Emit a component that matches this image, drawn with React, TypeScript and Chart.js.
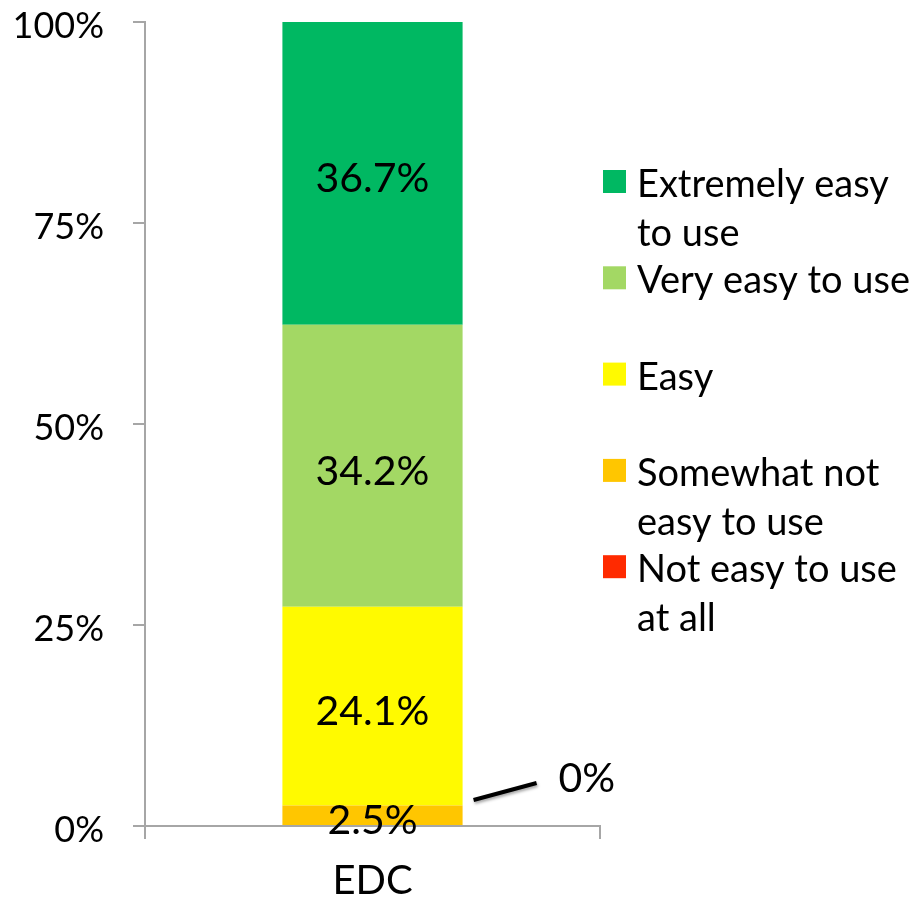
import React, { useEffect, useRef } from 'react';
import { Chart, registerables } from 'chart.js';

Chart.register(...registerables);

// ---- data ----
const categories = ['EDC'];
const seriesNames = [
  'Not easy to use at all',
  'Somewhat not easy to use',
  'Easy',
  'Very easy to use',
  'Extremely easy to use',
];
const legendLines = [
  ['Not easy to use', 'at all'],
  ['Somewhat not', 'easy to use'],
  ['Easy'],
  ['Very easy to use'],
  ['Extremely easy', 'to use'],
];
const notEasyAtAll = [0];
const somewhatNotEasy = [2.5];
const easy = [24.1];
const veryEasy = [34.2];
const extremelyEasy = [36.7];
const seriesValues = [notEasyAtAll, somewhatNotEasy, easy, veryEasy, extremelyEasy];
const seriesColors = ['#FF2A00', '#FFC600', '#FFFA00', '#A3D864', '#00B862'];
const yTickLabels = ['0%', '25%', '50%', '75%', '100%'];

const FONT = 'Lato, "DejaVu Sans", sans-serif';
const AXIS_GRAY = '#A6A6A6';

const fmt = (v: number) => `${v}%`;

const dataLabelPlugin = {
  id: 'dataLabels',
  afterDatasetsDraw(chart: any) {
    const ctx = chart.ctx;
    ctx.save();
    ctx.fillStyle = '#000';
    ctx.font = `41px ${FONT}`;
    ctx.textAlign = 'center';
    ctx.textBaseline = 'alphabetic';
    chart.data.datasets.forEach((_ds: any, di: number) => {
      const meta = chart.getDatasetMeta(di);
      meta.data.forEach((bar: any, ci: number) => {
        const raw = seriesValues[di][ci];
        const { x, y, base, width } = bar.getProps(['x', 'y', 'base', 'width'], true);
        if (raw === 0) {
          const x0 = x + width / 2 + 11;
          const y0 = base - 26;
          ctx.save();
          ctx.strokeStyle = '#000';
          ctx.lineWidth = 4;
          ctx.shadowColor = 'rgba(0,0,0,0.35)';
          ctx.shadowBlur = 3;
          ctx.shadowOffsetX = 1;
          ctx.shadowOffsetY = 2;
          ctx.beginPath();
          ctx.moveTo(x0, y0);
          ctx.lineTo(x0 + 63, y0 - 17);
          ctx.stroke();
          ctx.restore();
          ctx.textAlign = 'left';
          ctx.fillText(fmt(raw), x0 + 85, y0 - 8);
          ctx.textAlign = 'center';
        } else {
          const mid = (y + base) / 2;
          ctx.fillText(fmt(raw), x, mid + 19);
        }
      });
    });
    ctx.restore();
  },
};

const legendPlugin = {
  id: 'customLegend',
  afterDraw(chart: any) {
    const ctx = chart.ctx;
    const area = chart.chartArea;
    const boxX = area.right + 3;
    const box = 23;
    const textX = area.right + 37;
    const firstTop = 170;
    const step = 96.3;
    const lineGap = 49;
    ctx.save();
    ctx.font = `38px ${FONT}`;
    ctx.textAlign = 'left';
    ctx.textBaseline = 'alphabetic';
    const n = seriesNames.length;
    for (let k = 0; k < n; k++) {
      const si = n - 1 - k;
      const top = firstTop + k * step;
      ctx.fillStyle = seriesColors[si];
      ctx.fillRect(boxX, top, box, box);
      ctx.fillStyle = '#000';
      legendLines[si].forEach((line, li) => {
        ctx.fillText(line, textX, top + 27 + li * lineGap);
      });
    }
    ctx.restore();
  },
};

export default function App() {
  const ref = useRef<HTMLCanvasElement | null>(null);

  useEffect(() => {
    if (!ref.current) return;
    const totals = categories.map((_c, ci) =>
      seriesValues.reduce((s, arr) => s + arr[ci], 0)
    );
    const chart = new Chart(ref.current, {
      type: 'bar',
      data: {
        labels: categories,
        datasets: seriesNames.map((name, si) => ({
          label: name,
          data: seriesValues[si].map((v, ci) => (v / totals[ci]) * 100),
          backgroundColor: seriesColors[si],
          borderWidth: 0,
          categoryPercentage: 1,
          barPercentage: 0.396,
        })),
      },
      options: {
        animation: false,
        responsive: false,
        maintainAspectRatio: false,
        layout: { padding: { top: 22, right: 322, left: 0, bottom: 0 } },
        plugins: {
          legend: { display: false },
          tooltip: { enabled: false },
        },
        scales: {
          x: {
            stacked: true,
            offset: true,
            grid: {
              drawOnChartArea: false,
              offset: true,
              tickLength: 13,
              color: AXIS_GRAY,
              lineWidth: 2,
            },
            border: { color: AXIS_GRAY, width: 2 },
            ticks: {
              font: { family: FONT, size: 40 },
              color: '#000',
              padding: 18,
            },
            afterFit: (s: any) => {
              s.height = 82;
              s.paddingLeft = 0;
              s.paddingRight = 0;
            },
          },
          y: {
            stacked: true,
            min: 0,
            max: 100,
            grid: {
              drawOnChartArea: false,
              tickLength: 12,
              color: AXIS_GRAY,
              lineWidth: 2,
            },
            border: { color: AXIS_GRAY, width: 2 },
            ticks: {
              stepSize: 25,
              font: { family: FONT, size: 36 },
              color: '#000',
              padding: 29,
              labelOffset: 4,
              callback: (_v: any, i: number) => yTickLabels[i],
            },
            afterFit: (s: any) => {
              s.width = 145;
              s.paddingTop = 0;
              s.paddingBottom = 0;
            },
          },
        },
      },
      plugins: [dataLabelPlugin, legendPlugin],
    });
    return () => chart.destroy();
  }, []);

  return (
    <div style={{ position: 'absolute', left: 0, top: 0, width: 922, height: 908, background: '#fff' }}>
      <canvas ref={ref} width={922} height={908} style={{ display: 'block' }} />
    </div>
  );
}
